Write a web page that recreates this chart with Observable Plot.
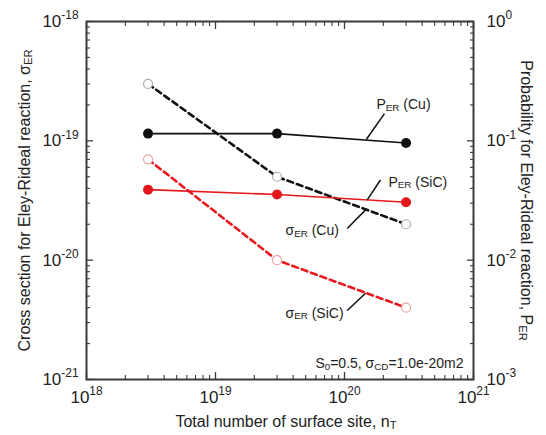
<!DOCTYPE html>
<html><head><meta charset="utf-8">
<script src="https://cdn.jsdelivr.net/npm/d3@7"></script>
<script src="https://cdn.jsdelivr.net/npm/@observablehq/plot@0.6"></script>
<style>
body{margin:0;background:#fff;}
#chart{width:546px;height:435px;}
svg{font-family:"Liberation Sans",Arial,sans-serif;}
</style></head><body><div id="chart"></div>
<script>
// ---- data ----
const nT = [3e18, 3e19, 3e20];
const sigmaCu = [3.0e-19, 5.0e-20, 2.0e-20];
const sigmaSiC = [7.0e-20, 1.0e-20, 4.0e-21];
const pCu = [0.115, 0.115, 0.096];
const pSiC = [0.039, 0.0355, 0.0306];
// tick values
const xDecades = [1e18, 1e19, 1e20, 1e21];
const yDecades = [1e-21, 1e-20, 1e-19, 1e-18];
// right axis (probability 1e-3..1) shares the left scale (1e-21..1e-18)
const P_TO_SIGMA = 1e-18;
// annotations (data units)
const labelText = ["P_{ER} (Cu)", "P_{ER} (SiC)", "σ_{ER} (Cu)", "σ_{ER} (SiC)"];
const labelX = [1.77e20, 2.19e20, 3.49e19, 3.49e19];
const labelY = [2.0e-19, 4.5e-20, 1.77e-20, 3.59e-21];
const leadX1 = [1.48e20, 1.50e20, 1.05e20, 1.05e20];
const leadY1 = [1.03e-19, 3.2e-20, 1.84e-20, 3.79e-21];
const leadX2 = [2.04e20, 1.90e20, 1.456e20, 1.456e20];
const leadY2 = [1.69e-19, 4.7e-20, 2.64e-20, 5.28e-21];
const noteText = "S_{0}=0.5, σ_{CD}=1.0e-20m2";

const minorX = d3.range(18, 21).flatMap(e => d3.range(2, 10).map(m => m * Math.pow(10, e)));
const minorY = d3.range(-21, -18).flatMap(e => d3.range(2, 10).map(m => m * Math.pow(10, e)));

const RED = "#e5181e";
const rows = (ys, f = 1) => nT.map((x, i) => ({x, y: ys[i] * f}));
const sCu = rows(sigmaCu), sSiC = rows(sigmaSiC);
const PCu = rows(pCu, P_TO_SIGMA), PSiC = rows(pSiC, P_TO_SIGMA);
const labels = labelText.map((t, i) => ({t, x: labelX[i], y: labelY[i]}));
const leaders = leadX1.map((_, i) => ({x1: leadX1[i], y1: leadY1[i], x2: leadX2[i], y2: leadY2[i]}));

const FR = "#3a3a3a";
const tickAxes = (vals, size, sw) => [
  Plot.axisX(vals, {anchor: "bottom", tickSize: size, dy: -size, tickFormat: () => "", stroke: FR, strokeWidth: sw, label: null}),
  Plot.axisX(vals, {anchor: "top", tickSize: size, dy: size, tickFormat: () => "", stroke: FR, strokeWidth: sw, label: null})
];
const tickAxesY = (vals, size, sw) => [
  Plot.axisY(vals, {anchor: "left", tickSize: size, dx: size, tickFormat: () => "", stroke: FR, strokeWidth: sw, label: null}),
  Plot.axisY(vals, {anchor: "right", tickSize: size, dx: -size, tickFormat: () => "", stroke: FR, strokeWidth: sw, label: null})
];
const exp10 = d => Math.round(Math.log10(d));

const chart = Plot.plot({
  width: 546, height: 435,
  marginLeft: 86, marginRight: 73, marginTop: 21, marginBottom: 56,
  x: {type: "log", domain: [1e18, 1e21], axis: null},
  y: {type: "log", domain: [1e-21, 1e-18], axis: null},
  marks: [
    ...tickAxes(xDecades, 7, 1.3), ...tickAxes(minorX, 4, 1.1),
    ...tickAxesY(yDecades, 7, 1.3), ...tickAxesY(minorY, 4, 1.1),
    Plot.axisX(xDecades, {anchor: "bottom", tickSize: 0, tickPadding: 11, fontSize: 17, fill: "#222",
      tickFormat: d => `10^{${exp10(d)}}`, label: null}),
    Plot.axisY(yDecades, {anchor: "left", tickSize: 0, tickPadding: 8, fontSize: 17, fill: "#222",
      tickFormat: d => `10^{${exp10(d)}}`, label: null}),
    Plot.axisY(yDecades, {anchor: "right", tickSize: 0, tickPadding: 13, fontSize: 17, fill: "#222",
      tickFormat: d => `10^{${exp10(d / P_TO_SIGMA)}}`, label: null}),
    // series
    Plot.line(sCu, {x: "x", y: "y", stroke: "#111", strokeWidth: 2.6, strokeDasharray: "6,4"}),
    Plot.line(sSiC, {x: "x", y: "y", stroke: RED, strokeWidth: 2.6, strokeDasharray: "6,4"}),
    Plot.line(PCu, {x: "x", y: "y", stroke: "#111", strokeWidth: 1.6}),
    Plot.line(PSiC, {x: "x", y: "y", stroke: RED, strokeWidth: 1.6}),
    Plot.dot(sCu, {x: "x", y: "y", r: 4.5, fill: "#fff", stroke: "#aaa", strokeWidth: 1.2}),
    Plot.dot(sSiC, {x: "x", y: "y", r: 4.5, fill: "#fff", stroke: "#f0a0a0", strokeWidth: 1.2}),
    Plot.dot(PCu, {x: "x", y: "y", r: 5, fill: "#111", stroke: "none"}),
    Plot.dot(PSiC, {x: "x", y: "y", r: 5, fill: RED, stroke: "none"}),
    // annotations
    Plot.link(leaders, {x1: "x1", y1: "y1", x2: "x2", y2: "y2", stroke: "#111", strokeWidth: 1.5}),
    Plot.text(labels, {x: "x", y: "y", text: "t", textAnchor: "start", fontSize: 14, fill: "#222"}),
    Plot.text([noteText], {frameAnchor: "bottom-right", dx: -10, dy: -16, textAnchor: "end", lineAnchor: "middle", fontSize: 14, fill: "#222"}),
    // axis titles
    Plot.text(["Total number of surface site, n_{T}"], {frameAnchor: "bottom", dy: 42, dx: 6, textAnchor: "middle", lineAnchor: "middle", fontSize: 16, fill: "#222"}),
    Plot.text(["Cross section for Eley-Rideal reaction, σ_{ER}"], {frameAnchor: "left", dx: -62, rotate: -90, textAnchor: "middle", lineAnchor: "middle", fontSize: 16, fill: "#222"}),
    Plot.text(["Probability for Eley-Rideal reaction, P_{ER}"], {frameAnchor: "right", dx: 53, rotate: 90, textAnchor: "middle", lineAnchor: "middle", fontSize: 16, fill: "#222"}),
    Plot.frame({stroke: FR, strokeWidth: 2})
  ]
});
document.getElementById("chart").appendChild(chart);

// turn ^{..} and _{..} into real superscript / subscript tspans
chart.querySelectorAll("text").forEach(t => {
  const s = t.textContent;
  if (!/[\^_]\{/.test(s)) return;
  const fs = parseFloat(getComputedStyle(t).fontSize) || 14;
  const parts = [];
  const re = /([\^_])\{([^}]*)\}/g;
  let last = 0, m;
  while ((m = re.exec(s))) {
    if (m.index > last) parts.push({k: "", v: s.slice(last, m.index)});
    parts.push({k: m[1], v: m[2]});
    last = re.lastIndex;
  }
  if (last < s.length) parts.push({k: "", v: s.slice(last)});
  while (t.firstChild) t.removeChild(t.firstChild);
  let shift = 0;
  for (const p of parts) {
    const ts = document.createElementNS("http://www.w3.org/2000/svg", "tspan");
    let target = 0;
    if (p.k === "^") { target = -0.45 * fs; ts.setAttribute("font-size", (0.7 * fs).toFixed(1)); }
    else if (p.k === "_") { target = 0.12 * fs; ts.setAttribute("font-size", (0.7 * fs).toFixed(1)); }
    const d = target - shift;
    if (d !== 0) ts.setAttribute("dy", d.toFixed(2));
    shift = target;
    ts.textContent = p.v;
    t.appendChild(ts);
  }
});
</script></body></html>
